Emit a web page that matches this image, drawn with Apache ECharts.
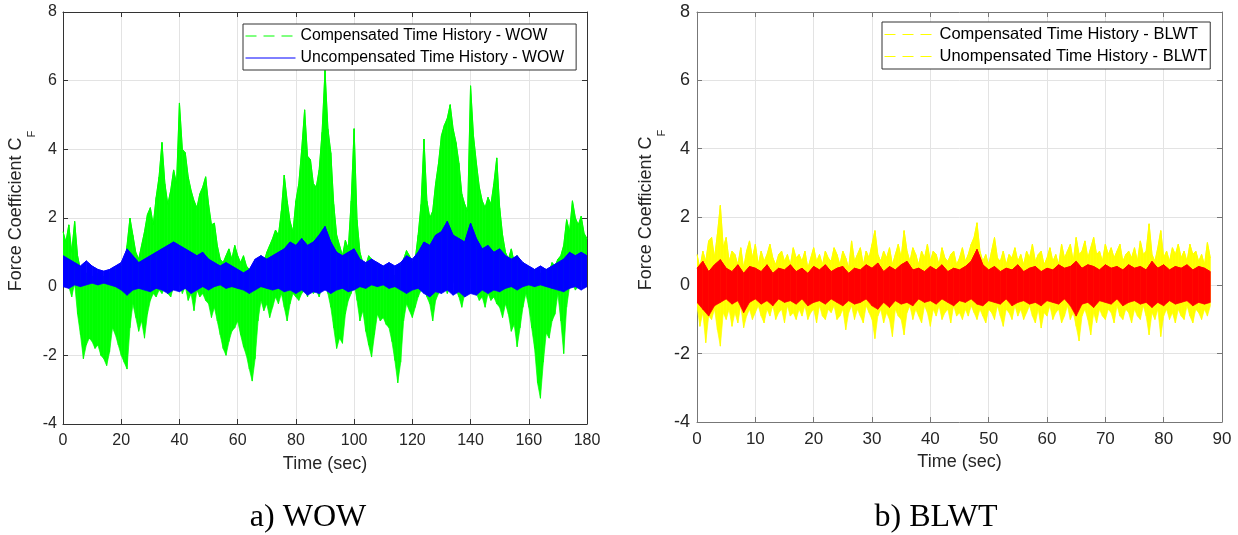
<!DOCTYPE html>
<html><head><meta charset="utf-8">
<script src="https://cdn.jsdelivr.net/npm/echarts@6/dist/echarts.min.js"></script>
<style>html,body{margin:0;padding:0;background:#fff}#c{width:1238px;height:535px}</style>
</head><body><div id="c"></div>
<script>
// ---------- tick labels ----------
const wowTimeTicks = [0,20,40,60,80,100,120,140,160,180];
const blwtTimeTicks = [0,10,20,30,40,50,60,70,80,90];
const forceTicks = [-4,-2,0,2,4,6,8];

// ---------- WOW (a) : envelopes read per time bin ----------
// Compensated (green), 1 s bins, t = 0..180
const wowCompHigh = [
1.6,1.3,1.8,1.0,1.9,0.9,0.5,0.3,0.4,0.2,
0.3,0.2,0.4,0.1,0.3,0.2,0.4,0.2,0.5,0.3,
0.6,0.4,1.2,2.0,1.5,1.0,0.8,1.2,1.6,2.1,
2.3,1.8,2.6,3.2,4.2,3.0,2.4,2.8,3.4,3.0,
5.35,4.0,3.9,3.2,2.8,2.5,2.3,2.7,2.9,3.2,
2.4,1.8,1.85,1.2,0.8,0.7,0.9,1.1,0.8,1.2,
0.9,0.7,0.9,0.6,0.5,0.4,0.6,0.8,0.9,0.7,
1.0,1.2,1.4,1.65,1.5,2.2,3.25,2.5,1.9,1.6,
2.5,3.0,4.0,5.15,3.8,3.7,3.0,2.9,3.4,4.5,
6.3,4.6,3.9,2.4,1.5,1.2,0.9,1.35,1.1,2.5,
4.6,1.95,1.0,0.7,0.6,0.9,0.8,0.6,0.7,0.5,
0.6,0.4,0.5,0.4,0.3,0.5,0.6,0.8,1.05,0.9,
0.7,0.8,1.5,2.4,4.3,2.5,2.0,2.2,3.0,3.6,
4.4,4.7,4.9,5.3,4.6,4.2,3.6,2.7,2.4,2.2,
5.85,4.4,3.6,2.9,2.5,2.3,2.6,2.4,3.0,3.75,
2.3,1.5,1.0,0.8,1.1,0.7,0.9,0.6,0.7,0.5,
0.6,0.4,0.5,0.3,0.4,0.3,0.5,0.4,0.7,0.6,
0.8,0.9,1.2,1.95,1.6,2.5,2.0,1.8,2.05,1.55,
1.4];
const wowCompLow = [
0.2,0.4,0.0,-0.3,0.1,-0.8,-1.4,-2.1,-1.7,-1.5,
-1.6,-1.8,-1.7,-2.0,-2.1,-2.3,-1.9,-1.2,-1.4,-1.7,
-2.0,-2.2,-2.4,-1.2,-0.5,-0.9,-1.3,-1.0,-1.5,-0.8,
-0.4,-0.2,-0.3,-0.1,-0.2,0.0,-0.2,-0.3,0.0,-0.1,
0.1,-0.2,0.0,-0.4,-0.2,-0.7,-0.1,-0.3,-0.2,-0.4,
-0.5,-0.9,-0.6,-1.0,-1.4,-1.8,-2.0,-1.6,-1.3,-1.2,
-1.0,-1.4,-1.75,-2.0,-2.4,-2.75,-2.1,-1.0,-0.4,-0.7,
-0.5,-0.9,-0.6,-0.3,-0.5,-0.2,-0.6,-1.0,-0.5,-0.2,
-0.3,-0.4,-0.2,-0.1,-0.3,0.0,-0.2,-0.1,-0.3,0.0,
0.2,-0.2,-0.6,-1.2,-1.8,-1.5,-1.65,-0.8,-0.4,-0.2,
0.1,-0.4,-1.0,-0.7,-1.3,-1.7,-2.05,-1.4,-0.8,-1.0,
-0.9,-1.1,-1.2,-1.6,-2.15,-2.8,-2.2,-1.0,-0.5,-0.7,
-0.9,-0.6,-0.3,-0.1,0.0,-0.3,-0.5,-1.0,-0.4,-0.2,
-0.1,0.1,-0.2,0.0,0.2,-0.1,-0.3,-0.6,-0.2,0.0,
0.3,0.0,-0.2,-0.4,-0.3,-0.6,-0.2,-0.4,-0.3,-0.5,
-0.6,-0.9,-0.5,-0.8,-1.3,-1.1,-1.75,-1.2,-0.6,-0.2,
-0.6,-1.2,-1.8,-2.8,-3.25,-2.2,-1.35,-1.5,-1.0,-0.8,
-0.2,-1.0,-1.95,-0.6,0.0,0.1,-0.1,0.0,0.2,0.0,
0.1];
// Uncompensated (blue), 2 s bins, t = 0..180
const wowUncompHigh = [
0.9,0.8,0.7,0.6,0.75,0.6,0.5,0.45,0.5,0.6,
0.7,1.1,0.9,0.7,0.8,0.9,1.0,1.1,1.2,1.3,
1.2,1.1,1.0,0.9,1.0,0.8,0.7,0.6,0.7,0.6,
0.5,0.4,0.5,0.8,0.9,0.8,0.9,1.0,1.1,1.3,
1.2,1.4,1.2,1.3,1.5,1.75,1.3,1.0,0.9,1.0,
1.1,0.8,0.7,0.8,0.7,0.6,0.7,0.6,0.7,0.9,
0.8,1.0,1.3,1.2,1.5,1.6,1.9,1.5,1.4,1.3,
1.85,1.4,1.1,1.2,1.0,1.1,0.9,0.8,0.9,0.7,
0.6,0.5,0.6,0.5,0.6,0.7,0.8,1.0,0.9,1.0,
0.9];
const wowUncompLow = [
0.0,-0.05,0.05,0.0,0.05,0.1,0.05,0.1,0.05,0.0,
-0.1,-0.25,-0.1,-0.05,-0.1,-0.15,-0.05,-0.1,-0.2,-0.1,
-0.15,-0.05,-0.2,-0.1,0.0,-0.1,0.0,0.05,-0.05,0.0,
-0.05,-0.1,-0.2,-0.1,0.0,-0.05,-0.1,-0.05,-0.15,-0.1,
-0.2,-0.1,-0.25,-0.15,-0.2,-0.1,-0.2,-0.1,-0.05,-0.15,
-0.1,0.0,-0.05,0.05,0.0,0.05,-0.05,0.0,-0.1,-0.2,
-0.1,-0.05,-0.2,-0.3,-0.15,-0.2,-0.1,-0.25,-0.15,-0.3,
-0.2,-0.25,-0.1,-0.2,-0.1,-0.15,-0.05,0.0,-0.1,0.0,
0.05,0.0,0.05,0.0,-0.05,-0.1,-0.15,-0.05,0.0,-0.1,
0.0];

// ---------- BLWT (b) ----------
// Compensated (yellow), 0.5 s bins, t = 0..88
const blwtCompHigh = [
0.9,0.5,1.0,0.7,1.3,1.4,0.8,1.5,2.34,1.1,
1.4,0.7,1.0,0.9,0.6,1.1,0.5,1.0,1.3,0.8,
1.2,0.6,1.0,0.7,0.9,1.2,0.8,0.6,0.9,1.0,
0.7,0.9,0.6,1.1,0.8,0.9,0.7,1.0,0.5,0.8,
1.1,0.7,0.9,0.6,1.0,0.8,0.7,1.1,0.9,0.6,
1.0,0.8,0.5,1.3,0.7,0.9,1.1,0.6,1.0,0.8,
1.2,1.6,0.9,0.7,1.0,0.8,1.1,0.6,0.9,1.2,
0.8,1.6,1.0,0.7,1.1,0.9,0.6,1.0,0.8,1.2,
0.7,1.0,0.9,0.6,1.1,0.8,0.7,0.9,1.0,0.6,
0.8,1.1,0.7,0.9,1.2,1.4,1.83,1.0,0.7,0.9,
0.6,1.0,1.4,0.8,0.7,1.0,0.6,0.9,0.8,1.1,
0.7,0.9,0.6,1.0,0.8,1.2,0.7,0.9,1.0,0.6,
0.8,1.1,0.7,0.9,0.6,1.2,0.8,1.0,1.2,0.7,
1.4,0.9,1.0,1.3,0.8,1.1,1.4,0.9,1.0,0.7,
1.2,0.9,1.1,0.8,1.0,1.2,0.7,0.9,1.0,0.8,
1.1,0.7,1.3,0.9,1.0,1.8,0.9,0.7,1.1,1.6,
0.8,1.0,0.7,1.1,0.9,1.2,0.8,1.0,0.7,1.2,
0.9,1.0,0.7,0.9,0.6,1.25,0.8];
const blwtCompLow = [
-0.6,-1.2,-0.8,-1.68,-0.9,-1.0,-0.7,-1.3,-1.78,-0.8,
-1.0,-0.7,-1.2,-0.8,-1.1,-0.6,-1.24,-0.9,-0.7,-1.0,
-0.8,-0.6,-0.9,-1.1,-0.7,-0.9,-0.6,-1.0,-0.8,-0.7,
-1.1,-0.6,-0.9,-0.8,-1.0,-0.7,-0.9,-0.6,-1.0,-0.8,
-0.7,-1.1,-0.6,-0.9,-1.0,-0.7,-0.8,-0.6,-1.0,-0.9,
-0.7,-1.3,-0.8,-0.6,-1.0,-0.7,-0.9,-1.1,-0.6,-0.8,
-1.0,-1.56,-0.9,-0.7,-1.1,-0.8,-1.0,-1.5,-0.7,-0.9,
-1.0,-1.45,-0.8,-0.6,-1.0,-0.7,-0.9,-1.1,-0.6,-0.8,
-1.2,-0.7,-0.9,-0.6,-1.0,-0.8,-0.7,-1.1,-0.6,-0.9,
-0.8,-1.0,-0.7,-0.9,-0.6,-0.8,-1.0,-0.7,-0.9,-1.1,
-0.7,-0.8,-1.0,-0.6,-0.9,-1.2,-0.7,-0.8,-1.0,-0.6,
-0.9,-0.7,-1.0,-0.8,-0.6,-0.9,-1.1,-0.7,-1.25,-0.8,
-0.9,-0.6,-1.0,-0.8,-0.7,-1.1,-0.9,-0.6,-1.0,-0.8,
-1.2,-1.63,-0.9,-0.7,-1.0,-1.45,-0.8,-1.1,-0.7,-0.9,
-1.0,-0.7,-0.8,-1.1,-0.6,-0.9,-1.0,-0.7,-0.8,-1.1,
-0.7,-0.9,-1.0,-0.6,-0.9,-1.45,-0.8,-1.0,-0.7,-1.5,
-0.9,-0.7,-1.0,-0.8,-1.1,-0.7,-0.9,-1.0,-0.6,-0.9,
-1.1,-0.7,-0.8,-1.0,-0.7,-0.9,-0.6];
// Uncompensated (red), 1 s bins, t = 0..88
const blwtUncompHigh = [
0.5,0.7,0.4,0.6,0.75,0.5,0.4,0.6,0.35,0.55,
0.5,0.4,0.6,0.35,0.5,0.45,0.6,0.4,0.5,0.35,
0.55,0.45,0.6,0.4,0.5,0.55,0.35,0.5,0.45,0.6,
0.5,0.65,0.4,0.55,0.45,0.6,0.7,0.45,0.5,0.4,
0.55,0.45,0.6,0.4,0.5,0.45,0.55,0.7,1.05,0.6,
0.45,0.55,0.4,0.5,0.45,0.6,0.4,0.5,0.55,0.4,
0.5,0.45,0.6,0.5,0.55,0.7,0.5,0.6,0.55,0.45,
0.6,0.5,0.55,0.45,0.6,0.5,0.55,0.45,0.7,0.5,
0.6,0.45,0.55,0.5,0.6,0.45,0.55,0.5,0.4];
const blwtUncompLow = [
-0.5,-0.7,-0.9,-0.6,-0.5,-0.4,-0.55,-0.45,-0.8,-0.5,
-0.4,-0.55,-0.45,-0.6,-0.4,-0.5,-0.45,-0.55,-0.4,-0.6,
-0.5,-0.45,-0.55,-0.4,-0.5,-0.6,-0.45,-0.55,-0.5,-0.4,
-0.6,-0.7,-0.5,-0.65,-0.45,-0.55,-0.5,-0.6,-0.4,-0.5,
-0.45,-0.55,-0.4,-0.5,-0.6,-0.45,-0.5,-0.4,-0.55,-0.6,
-0.45,-0.5,-0.55,-0.4,-0.6,-0.5,-0.45,-0.55,-0.5,-0.6,
-0.45,-0.5,-0.55,-0.4,-0.6,-0.9,-0.55,-0.5,-0.65,-0.45,
-0.5,-0.55,-0.4,-0.6,-0.5,-0.45,-0.55,-0.5,-0.65,-0.5,
-0.6,-0.45,-0.55,-0.5,-0.45,-0.6,-0.5,-0.55,-0.5];

// ---------- build ----------
const FONT = '"Liberation Sans", Arial, sans-serif';
const TXT = '#262626';

function xAxes(grid, ticks, boxColor, fs, nfs) {
  const step = ticks[1] - ticks[0];
  const base = {
    gridIndex: grid, type: 'value', min: ticks[0], max: ticks[ticks.length - 1], interval: step,
    axisLine: { show: true, onZero: false, lineStyle: { color: boxColor, width: 1 } },
    axisTick: { show: true, inside: true, length: 5, lineStyle: { color: boxColor } }
  };
  return [
    Object.assign({}, base, {
      position: 'bottom',
      axisLabel: { show: true, margin: 9, color: TXT, fontSize: fs, fontFamily: FONT, showMinLabel: true, showMaxLabel: true },
      splitLine: { show: true, lineStyle: { color: '#e3e3e3', width: 1 } },
      name: 'Time (sec)', nameLocation: 'middle', nameGap: 31,
      nameTextStyle: { fontSize: nfs, color: TXT, fontFamily: FONT }
    }),
    Object.assign({}, base, { position: 'top', axisLabel: { show: false }, splitLine: { show: false } })
  ];
}
function yAxes(grid, ticks, boxColor, fs, nfs, gap, margin) {
  const step = ticks[1] - ticks[0];
  const base = {
    gridIndex: grid, type: 'value', min: ticks[0], max: ticks[ticks.length - 1], interval: step,
    axisLine: { show: true, onZero: false, lineStyle: { color: boxColor, width: 1 } },
    axisTick: { show: true, inside: true, length: 5, lineStyle: { color: boxColor } }
  };
  return [
    Object.assign({}, base, {
      position: 'left',
      axisLabel: { show: true, margin: margin, color: TXT, fontSize: fs, fontFamily: FONT, showMinLabel: true, showMaxLabel: true },
      splitLine: { show: true, lineStyle: { color: '#e3e3e3', width: 1 } },
      name: '{a|Force Coefficient C}{b|F}', nameLocation: 'middle', nameGap: gap, nameRotate: 90,
      nameTextStyle: {
        color: TXT, fontFamily: FONT, fontSize: nfs,
        rich: {
          a: { fontSize: nfs, lineHeight: 20, verticalAlign: 'top', color: TXT, fontFamily: FONT, padding: [0, 0, 0, 14] },
          b: { fontSize: 11, lineHeight: 30, verticalAlign: 'bottom', color: TXT, fontFamily: FONT }
        }
      }
    }),
    Object.assign({}, base, { position: 'right', axisLabel: { show: false }, splitLine: { show: false } })
  ];
}
// A noisy record is drawn as the filled band between its per-bin low and high values
// (custom series, one quad per pair of neighbouring bins), plus its high edge as a line
// series which also carries the legend entry.
function recordSeries(name, hi, lo, dt, color, axisIdx, z) {
  const quads = [];
  for (let i = 0; i + 1 < hi.length; i++) {
    quads.push([i * dt, hi[i], lo[i], (i + 1) * dt, hi[i + 1], lo[i + 1]]);
  }
  const band = {
    name: name + ' band', type: 'custom', xAxisIndex: axisIdx, yAxisIndex: axisIdx, z: z,
    data: quads, clip: true, silent: true, animation: false,
    encode: { x: [0, 3], y: [1, 2, 4, 5] },
    renderItem: function (params, api) {
      const a = api.coord([api.value(0), api.value(1)]);
      const b = api.coord([api.value(3), api.value(4)]);
      const c = api.coord([api.value(3), api.value(5)]);
      const d = api.coord([api.value(0), api.value(2)]);
      return { type: 'polygon', shape: { points: [a, b, c, d] },
               style: { fill: color, stroke: color, lineWidth: 0.7 } };
    }
  };
  const edge = {
    name: name, type: 'line', xAxisIndex: axisIdx, yAxisIndex: axisIdx, z: z,
    data: hi.map((v, i) => [i * dt, v]),
    symbol: 'none', showSymbol: false, sampling: null, animation: false, silent: true,
    lineStyle: { color: color, width: 1 }, itemStyle: { color: color }
  };
  return [band, edge];
}
const legendCommon = {
  orient: 'vertical', backgroundColor: '#fff', borderColor: '#333', borderWidth: 1, borderRadius: 0,
  itemWidth: 50, itemHeight: 14, selectedMode: false, z: 10
};
const noDot = { color: 'rgba(0,0,0,0)', opacity: 0, borderWidth: 0 };

const chart = echarts.init(document.getElementById('c'), null, { renderer: 'canvas' });
chart.setOption({
  backgroundColor: '#fff',
  animation: false,
  grid: [
    { left: 63, top: 12, width: 524, height: 412, containLabel: false },
    { left: 697, top: 12, width: 525, height: 410, containLabel: false }
  ],
  xAxis: [].concat(xAxes(0, wowTimeTicks, '#333', 16, 18), xAxes(1, blwtTimeTicks, '#777', 17, 18)),
  yAxis: [].concat(yAxes(0, forceTicks, '#333', 16, 18, 26, 6), yAxes(1, forceTicks, '#777', 18, 18, 30, 7)),
  legend: [
    Object.assign({}, legendCommon, {
      left: 243, top: 24, padding: [4, 12, 4, 2], itemGap: 6,
      textStyle: { fontSize: 15.8, color: '#000', fontFamily: FONT },
      data: [
        { name: 'Compensated Time History - WOW', lineStyle: { color: '#00ff00', type: [11, 7], width: 1 }, itemStyle: noDot },
        { name: 'Uncompensated Time History - WOW', lineStyle: { color: '#0000ff', type: 'solid', width: 1 }, itemStyle: noDot }
      ]
    }),
    Object.assign({}, legendCommon, {
      left: 882, top: 22, padding: [4, 3, 4, 2], itemGap: 5,
      textStyle: { fontSize: 16.5, color: '#000', fontFamily: FONT },
      data: [
        { name: 'Compensated Time History - BLWT', lineStyle: { color: '#ffff00', type: [11, 7], width: 1 }, itemStyle: noDot },
        { name: 'Unompensated Time History - BLWT', lineStyle: { color: '#ffff00', type: [11, 7], width: 1 }, itemStyle: noDot }
      ]
    })
  ],
  series: [].concat(
    recordSeries('Compensated Time History - WOW', wowCompHigh, wowCompLow, 1, '#00ff00', 0, 2),
    recordSeries('Uncompensated Time History - WOW', wowUncompHigh, wowUncompLow, 2, '#0000ff', 0, 3),
    recordSeries('Compensated Time History - BLWT', blwtCompHigh, blwtCompLow, 0.5, '#ffff00', 2, 2),
    recordSeries('Unompensated Time History - BLWT', blwtUncompHigh, blwtUncompLow, 1, '#ff0000', 2, 3)
  ),
  graphic: [
    { type: 'text', x: 308, y: 518, style: { text: 'a) WOW', font: '32px "Liberation Serif", "Times New Roman", serif', fill: '#000', textAlign: 'center', textVerticalAlign: 'middle' } },
    { type: 'text', x: 936, y: 518, style: { text: 'b) BLWT', font: '32px "Liberation Serif", "Times New Roman", serif', fill: '#000', textAlign: 'center', textVerticalAlign: 'middle' } }
  ]
});
</script></body></html>
